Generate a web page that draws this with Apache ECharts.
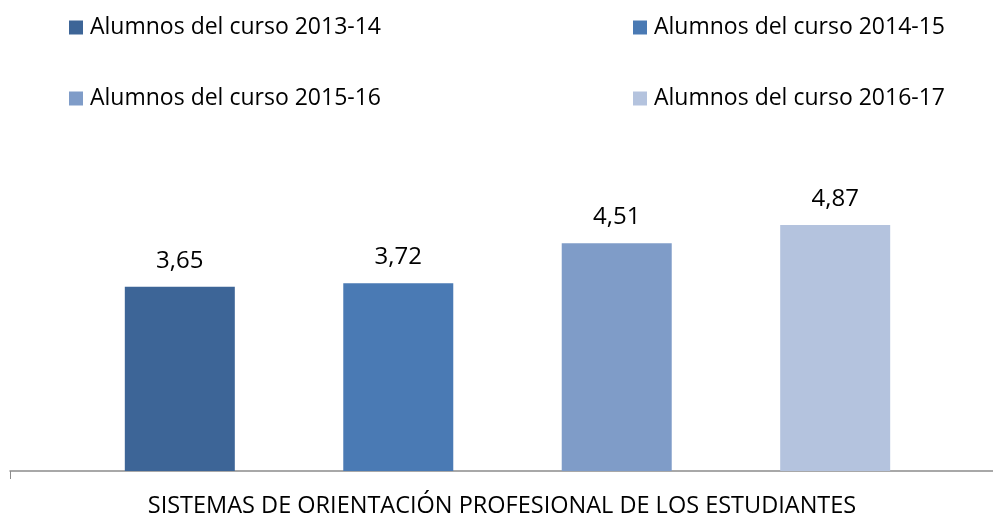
<!DOCTYPE html>
<html>
<head>
<meta charset="utf-8">
<script src="https://cdn.jsdelivr.net/npm/echarts@6/dist/echarts.min.js"></script>
<style>
  html, body { margin: 0; padding: 0; background: #fff; }
  #chart { width: 993px; height: 518px; }
</style>
</head>
<body>
<div id="chart"></div>
<script>
  var categories = ['SISTEMAS DE ORIENTACIÓN PROFESIONAL DE LOS ESTUDIANTES'];
  var seriesNames = ['Alumnos del curso 2013-14', 'Alumnos del curso 2014-15', 'Alumnos del curso 2015-16', 'Alumnos del curso 2016-17'];
  var values2013 = [3.65];
  var values2014 = [3.72];
  var values2015 = [4.51];
  var values2016 = [4.87];
  var colors = ['#3d6597', '#4a7ab4', '#7f9cc8', '#b4c3de'];

  var font = '"Open Sans", "Noto Sans", sans-serif';
  var allValues = [values2013, values2014, values2015, values2016];

  // legend: one component per entry so the 2x2 grid sits where it should
  var legendPos = [[69, 16], [633, 16], [69, 87], [633, 87]];
  var legends = seriesNames.map(function (name, i) {
    return {
      data: [name],
      left: legendPos[i][0],
      top: legendPos[i][1],
      padding: 0,
      icon: 'rect',
      itemWidth: 14,
      itemHeight: 14,
      itemGap: 0,
      textStyle: { color: '#000', fontSize: 23, fontFamily: font, padding: [0, 0, 0, 2] },
      selectedMode: false
    };
  });

  var series = seriesNames.map(function (name, i) {
    return {
      name: name,
      type: 'bar',
      data: allValues[i],
      barWidth: 110,
      barGap: '98.6%',
      itemStyle: { color: colors[i] },
      label: {
        show: true,
        position: 'top',
        distance: 14,
        color: '#000',
        fontSize: 24,
        fontFamily: font,
        formatter: function (p) { return p.value.toFixed(2).replace('.', ','); }
      }
    };
  });

  var chart = echarts.init(document.getElementById('chart'));
  chart.setOption({
    animation: false,
    color: colors,
    legend: legends,
    // the axis runs a little past the right edge of the picture
    grid: { left: 10, width: 995, top: 168, bottom: 47, containLabel: false, outerBoundsMode: 'none' },
    xAxis: {
      type: 'category',
      data: categories,
      axisLine: { lineStyle: { color: '#8c8c8c', width: 1.5 } },
      axisTick: { show: true, length: 8, lineStyle: { color: '#8c8c8c' } },
      axisLabel: { color: '#000', fontSize: 23.5, fontFamily: font, margin: 23, padding: [0, 11, 0, 0] }
    },
    yAxis: {
      type: 'value',
      min: 0,
      max: 6,
      show: false,
      splitLine: { show: false }
    },
    series: series
  });
</script>
</body>
</html>
